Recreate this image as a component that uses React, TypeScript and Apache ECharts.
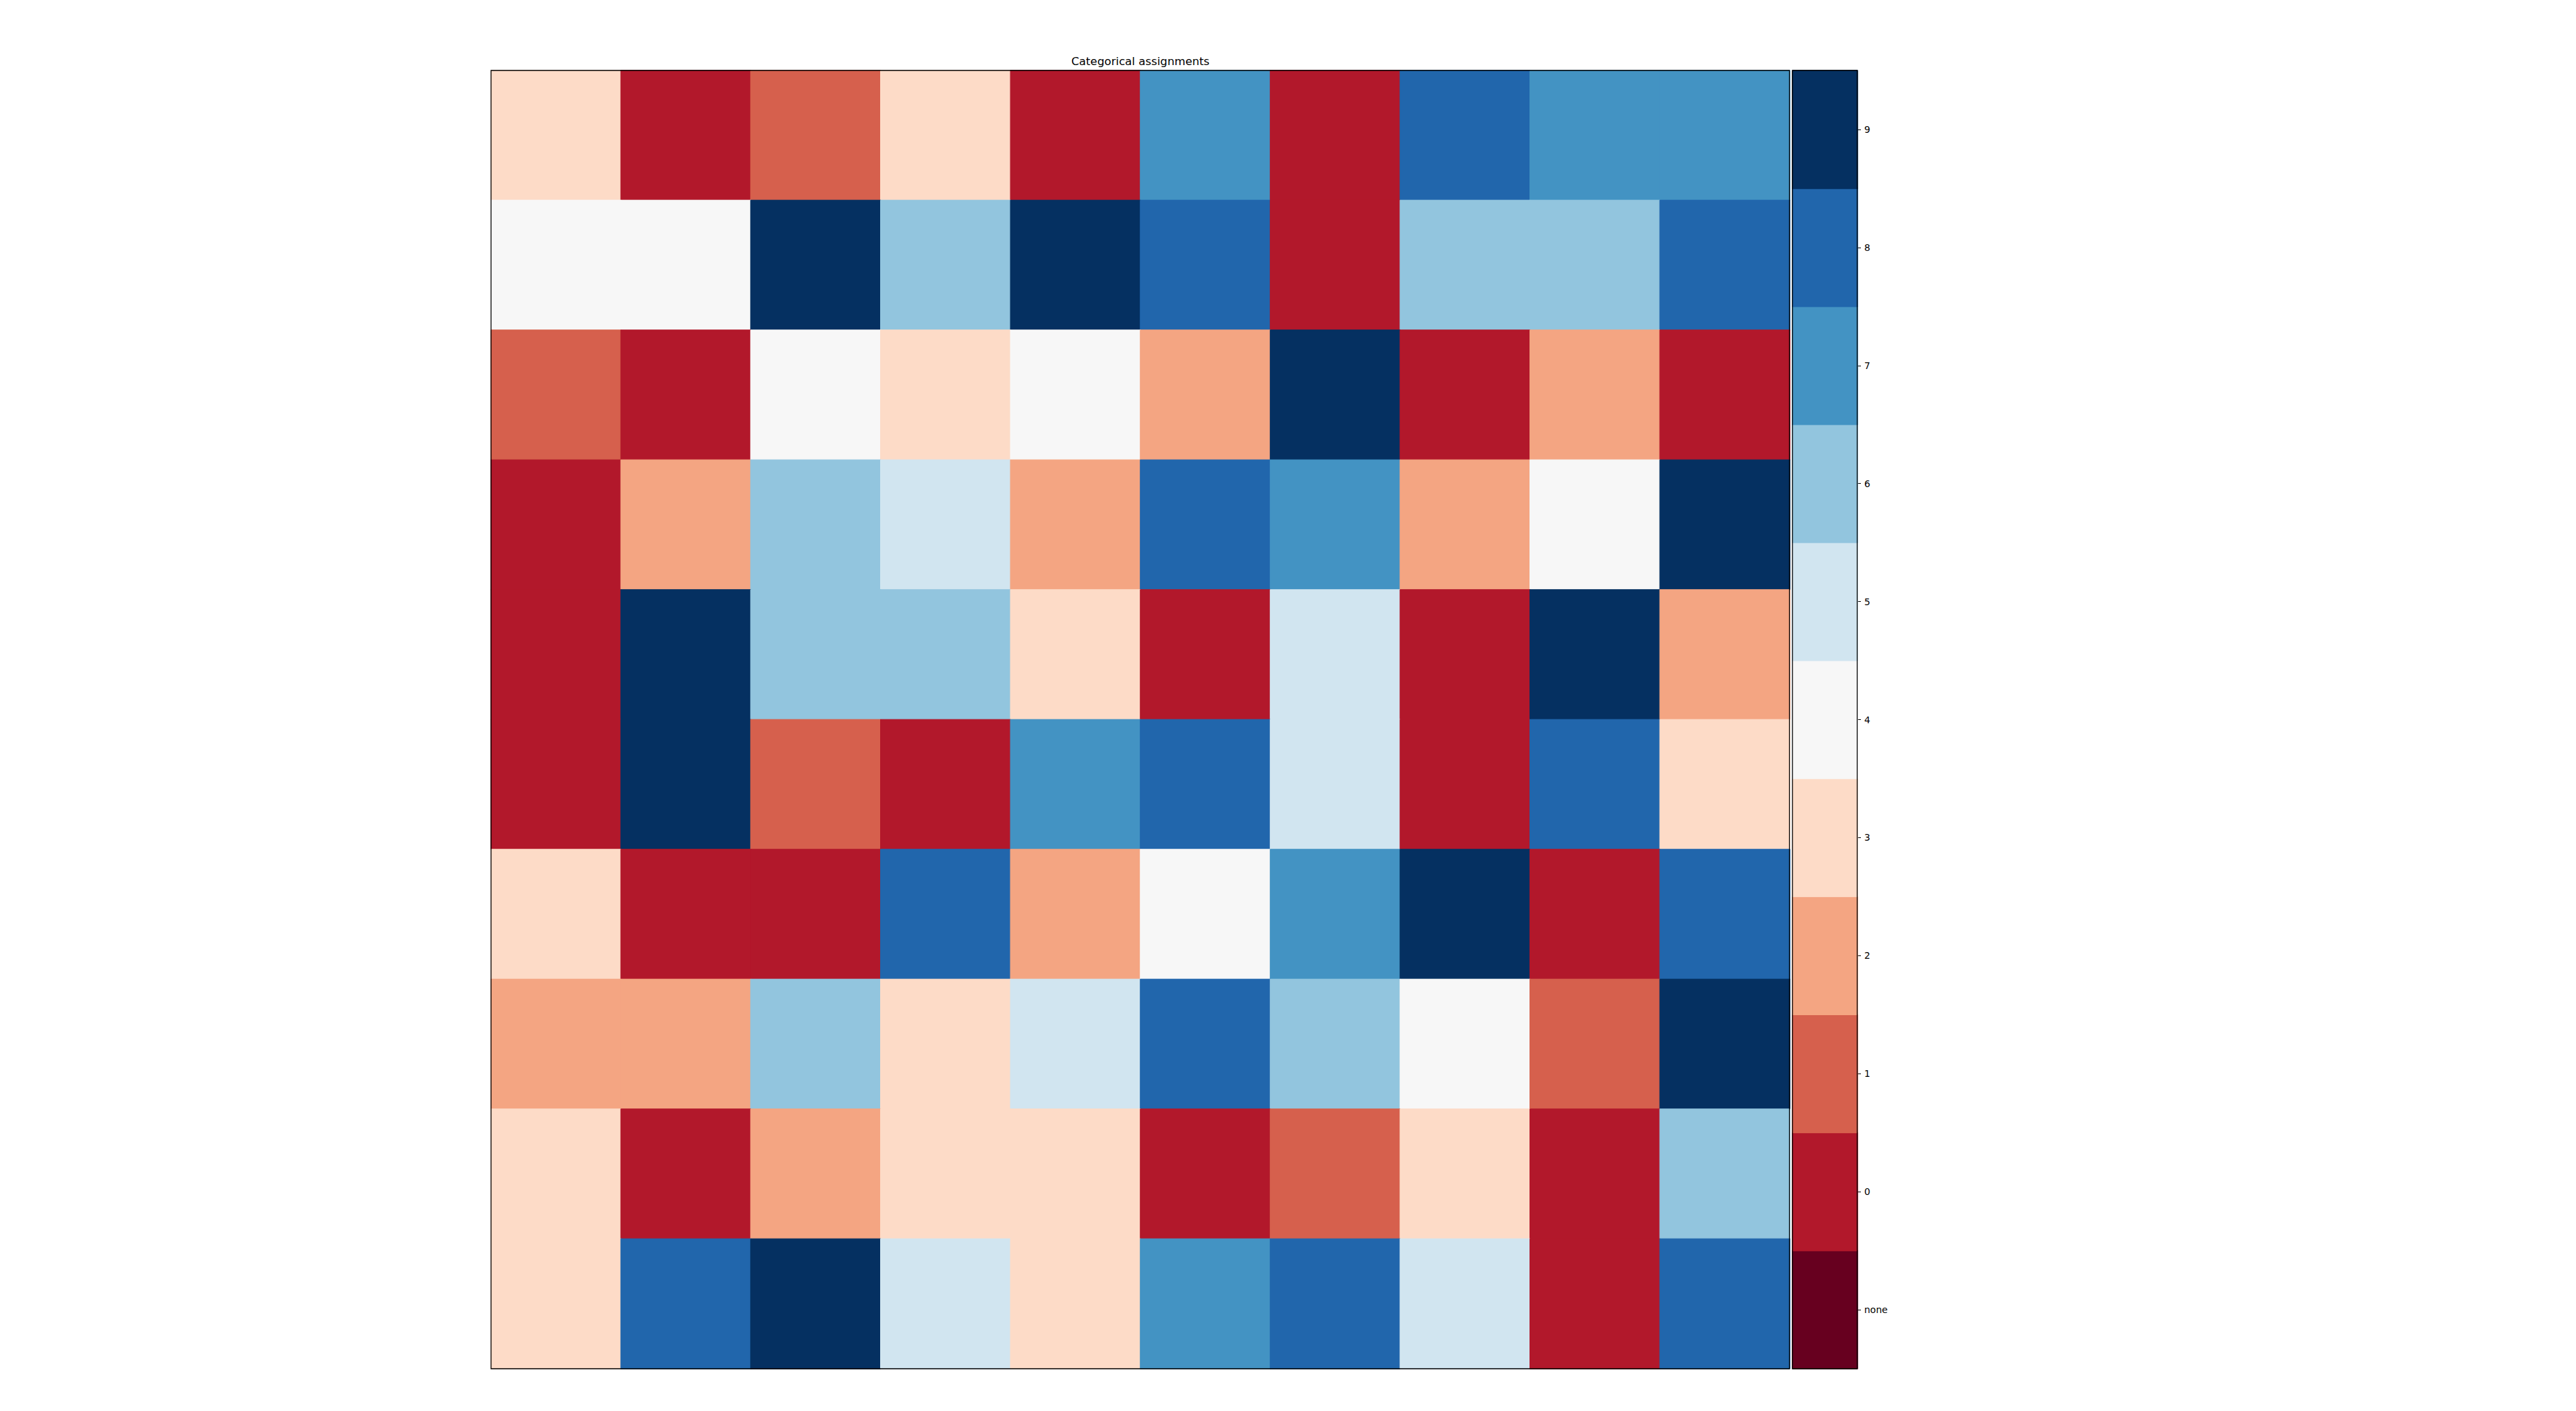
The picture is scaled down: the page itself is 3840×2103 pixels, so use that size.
import React, { useEffect, useRef } from "react";
import * as echarts from "echarts";

// Grid of categorical assignments, rows listed from top to bottom
const rowCategories = ["r0", "r1", "r2", "r3", "r4", "r5", "r6", "r7", "r8", "r9"];
const colCategories = ["c0", "c1", "c2", "c3", "c4", "c5", "c6", "c7", "c8", "c9"];
const row0 = [3, 0, 1, 3, 0, 7, 0, 8, 7, 7];
const row1 = [4, 4, 9, 6, 9, 8, 0, 6, 6, 8];
const row2 = [1, 0, 4, 3, 4, 2, 9, 0, 2, 0];
const row3 = [0, 2, 6, 5, 2, 8, 7, 2, 4, 9];
const row4 = [0, 9, 6, 6, 3, 0, 5, 0, 9, 2];
const row5 = [0, 9, 1, 0, 7, 8, 5, 0, 8, 3];
const row6 = [3, 0, 0, 8, 2, 4, 7, 9, 0, 8];
const row7 = [2, 2, 6, 3, 5, 8, 6, 4, 1, 9];
const row8 = [3, 0, 2, 3, 3, 0, 1, 3, 0, 6];
const row9 = [3, 8, 9, 5, 3, 7, 8, 5, 0, 8];
const rows = [row0, row1, row2, row3, row4, row5, row6, row7, row8, row9];

// Colorbar categories (bottom to top) and their values
const cbLabels = ["none", "0", "1", "2", "3", "4", "5", "6", "7", "8", "9"];
const cbValues = [-1, 0, 1, 2, 3, 4, 5, 6, 7, 8, 9];
const palette = [
  "#67001f", "#b2182b", "#d6604d", "#f4a582", "#fddbc7", "#f7f7f7",
  "#d1e5f0", "#92c5de", "#4393c3", "#2166ac", "#053061",
];

const titleText = "Categorical assignments";
const FONT = "DejaVu Sans";

const colorOf = (v: number) => palette[cbValues.indexOf(v)];

export default function App() {
  const ref = useRef<HTMLDivElement>(null);
  useEffect(() => {
    if (!ref.current) return;
    const chart = echarts.init(ref.current, null, { renderer: "svg" });
    const heatData: any[] = [];
    rows.forEach((r, ri) =>
      r.forEach((v, ci) =>
        heatData.push({
          value: [ci, ri, v],
          itemStyle: { borderColor: colorOf(v), borderWidth: 1 },
        })
      )
    );
    const cbData = cbValues.map((v, i) => ({
      value: [0, i, v],
      itemStyle: { borderColor: colorOf(v), borderWidth: 1 },
    }));

    const hm = { left: 732, top: 105, width: 1936, height: 1935 };
    const cb = { left: 2672, top: 105, width: 97, height: 1935 };

    chart.setOption({
      animation: false,
      backgroundColor: "#ffffff",
      textStyle: { fontFamily: FONT },
      grid: [
        { ...hm, show: false },
        { ...cb, show: false },
      ],
      xAxis: [
        { type: "category", data: colCategories, gridIndex: 0, show: false },
        { type: "category", data: ["cb"], gridIndex: 1, show: false },
      ],
      yAxis: [
        { type: "category", data: rowCategories, gridIndex: 0, inverse: true, show: false },
        {
          type: "category",
          data: cbLabels,
          gridIndex: 1,
          position: "right",
          axisLine: { show: false },
          axisTick: {
            show: true,
            inside: false,
            length: 5,
            alignWithLabel: true,
            lineStyle: { color: "#000", width: 1 },
          },
          axisLabel: {
            show: true,
            margin: 10,
            fontSize: 14,
            color: "#000",
            fontFamily: FONT,
          },
          splitLine: { show: false },
        },
      ],
      visualMap: {
        type: "piecewise",
        show: false,
        dimension: 2,
        seriesIndex: [0, 1],
        pieces: cbValues.map((v, i) => ({ value: v, color: palette[i] })),
      },
      series: [
        {
          type: "heatmap",
          xAxisIndex: 0,
          yAxisIndex: 0,
          data: heatData,
          emphasis: { disabled: true },
        },
        {
          type: "heatmap",
          xAxisIndex: 1,
          yAxisIndex: 1,
          data: cbData,
          emphasis: { disabled: true },
        },
      ],
      graphic: [
        {
          type: "rect",
          z: 100,
          shape: { x: hm.left, y: hm.top, width: hm.width - 0.5, height: hm.height },
          style: { fill: "none", stroke: "#000", lineWidth: 1.3 },
        },
        {
          type: "rect",
          z: 100,
          shape: { x: cb.left, y: cb.top, width: cb.width - 0.5, height: cb.height },
          style: { fill: "none", stroke: "#000", lineWidth: 1.3 },
        },
        {
          type: "text",
          z: 100,
          x: hm.left + hm.width / 2,
          y: 91,
          style: {
            text: titleText,
            fill: "#000",
            font: `16.7px "${FONT}"`,
            textAlign: "center",
            textVerticalAlign: "middle",
          },
        },
      ],
    });
    return () => chart.dispose();
  }, []);
  return (
    <div
      ref={ref}
      style={{ position: "fixed", left: 0, top: 0, width: 3840, height: 2103, background: "#fff" }}
    />
  );
}
